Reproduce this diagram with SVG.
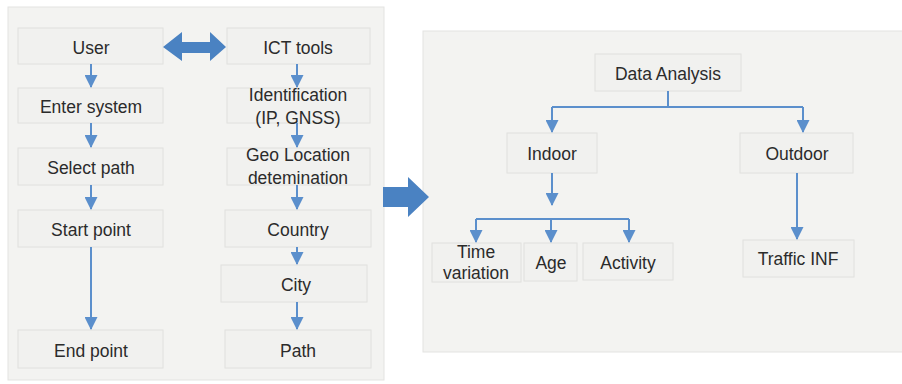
<svg xmlns="http://www.w3.org/2000/svg" width="902" height="384" viewBox="0 0 902 384">
<defs>
<style>
.panel{fill:#f3f3f1;stroke:#e3e3e1;stroke-width:1}
.box{fill:#f1f1ef;stroke:#e0e0de;stroke-width:1}
.t{font-family:"Liberation Sans",Arial,sans-serif;font-size:17.5px;fill:#2b2b2b;text-anchor:middle}
.c{stroke:#5b8fcc;stroke-width:2;fill:none}
.big{fill:#4a82c2}
</style>
<marker id="ah" markerWidth="13" markerHeight="13" viewBox="0 0 13 13" refX="12" refY="6.5" orient="auto" markerUnits="userSpaceOnUse">
<path d="M0,0 L13,6.5 L0,13 Z" fill="#5b8fcc"/>
</marker>
</defs>
<rect width="902" height="384" fill="#ffffff"/>
<rect class="panel" x="8" y="7" width="376" height="373"/>
<rect class="panel" x="423" y="31" width="485" height="321"/>

<g id="user"><rect class="box" x="18" y="28" width="145" height="36"/><text class="t" x="91" y="54">User</text></g>
<g id="enter"><rect class="box" x="18" y="88" width="145" height="35"/><text class="t" x="91" y="113">Enter system</text></g>
<g id="select"><rect class="box" x="18" y="148" width="145" height="37"/><text class="t" x="91" y="174">Select path</text></g>
<g id="start"><rect class="box" x="18" y="210" width="145" height="37"/><text class="t" x="91" y="236">Start point</text></g>
<g id="end"><rect class="box" x="18" y="330" width="145" height="38"/><text class="t" x="91" y="357">End point</text></g>

<g id="ict"><rect class="box" x="227" y="28" width="143" height="36"/><text class="t" x="298" y="54">ICT tools</text></g>
<g id="ident"><rect class="box" x="227" y="88" width="143" height="35"/><text class="t" x="298" y="101">Identification</text><text class="t" x="298" y="124">(IP, GNSS)</text></g>
<g id="geo"><rect class="box" x="227" y="148" width="143" height="37"/><text class="t" x="298" y="161">Geo Location</text><text class="t" x="298" y="184">detemination</text></g>
<g id="country"><rect class="box" x="225" y="210" width="146" height="37"/><text class="t" x="298" y="236">Country</text></g>
<g id="city"><rect class="box" x="221" y="265" width="146" height="37"/><text class="t" x="296" y="291">City</text></g>
<g id="path"><rect class="box" x="225" y="330" width="146" height="38"/><text class="t" x="298" y="357">Path</text></g>

<g id="data"><rect class="box" x="595" y="54" width="146" height="37"/><text class="t" x="668" y="80">Data Analysis</text></g>
<g id="indoor"><rect class="box" x="507" y="133" width="90" height="40"/><text class="t" x="552" y="160">Indoor</text></g>
<g id="outdoor"><rect class="box" x="740" y="133" width="113" height="40"/><text class="t" x="797" y="160">Outdoor</text></g>
<g id="time"><rect class="box" x="432" y="243" width="89" height="39"/><text class="t" x="476" y="258">Time</text><text class="t" x="476" y="279">variation</text></g>
<g id="age"><rect class="box" x="524" y="243" width="53" height="38"/><text class="t" x="551" y="269">Age</text></g>
<g id="activity"><rect class="box" x="583" y="243" width="90" height="37"/><text class="t" x="628" y="269">Activity</text></g>
<g id="traffic"><rect class="box" x="743" y="240" width="111" height="37"/><text class="t" x="798" y="265">Traffic INF</text></g>

<g id="connectors">
<line class="c" x1="91" y1="64" x2="91" y2="87" marker-end="url(#ah)"/>
<line class="c" x1="91" y1="123" x2="91" y2="147" marker-end="url(#ah)"/>
<line class="c" x1="91" y1="185" x2="91" y2="209" marker-end="url(#ah)"/>
<line class="c" x1="91" y1="247" x2="91" y2="329" marker-end="url(#ah)"/>
<line class="c" x1="297" y1="64" x2="297" y2="87" marker-end="url(#ah)"/>
<line class="c" x1="297" y1="123" x2="297" y2="147" marker-end="url(#ah)"/>
<line class="c" x1="297" y1="185" x2="297" y2="209" marker-end="url(#ah)"/>
<line class="c" x1="297" y1="247" x2="297" y2="264" marker-end="url(#ah)"/>
<line class="c" x1="297" y1="302" x2="297" y2="329" marker-end="url(#ah)"/>
<path class="c" d="M668,91 V107 M552,107 H803"/>
<path class="c" d="M552,107 V132" marker-end="url(#ah)"/>
<path class="c" d="M803,107 V132" marker-end="url(#ah)"/>
<line class="c" x1="552" y1="173" x2="552" y2="205" marker-end="url(#ah)"/>
<path class="c" d="M476,219 H629"/>
<path class="c" d="M476,219 V242" marker-end="url(#ah)"/>
<path class="c" d="M551,219 V242" marker-end="url(#ah)"/>
<path class="c" d="M629,219 V242" marker-end="url(#ah)"/>
<line class="c" x1="797" y1="173" x2="797" y2="239" marker-end="url(#ah)"/>
<path class="big" d="M163,47 L182,32 L182,42 L210,42 L210,32 L226,47 L210,61 L210,53 L182,53 L182,61 Z"/>
<path class="big" d="M383,187 L408,187 L408,177 L429,197 L408,217 L408,207 L383,207 Z"/>
</g>
</svg>
